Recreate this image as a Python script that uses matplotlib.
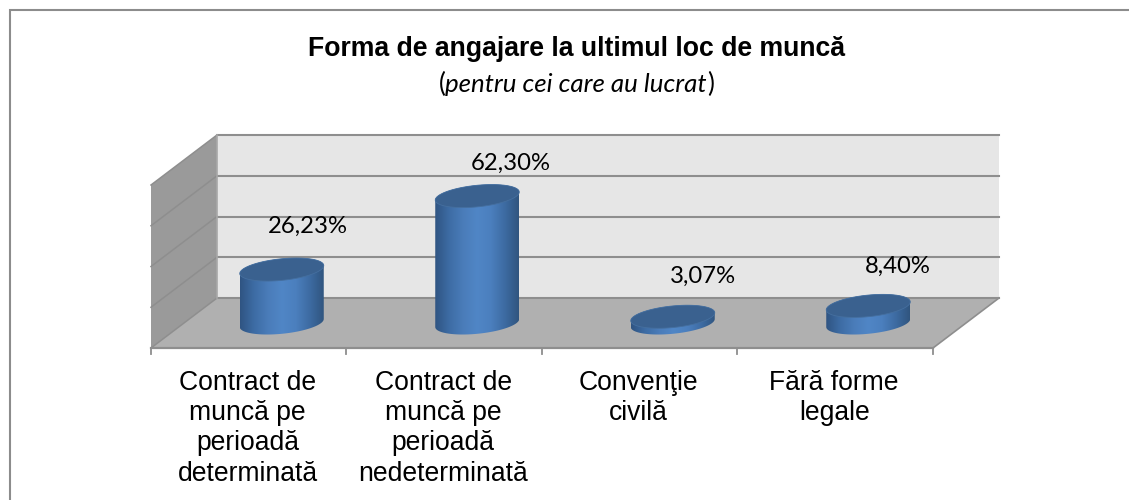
import numpy as np
import matplotlib
matplotlib.use("Agg")
import matplotlib.pyplot as plt
from matplotlib.colors import LinearSegmentedColormap
from matplotlib.patches import Polygon, PathPatch
from matplotlib.path import Path

# data
categories = [["Contract de", "muncă pe", "perioadă", "determinată"],
              ["Contract de", "muncă pe", "perioadă", "nedeterminată"],
              ["Convenţie", "civilă"],
              ["Fără forme", "legale"]]
values = [26.23, 62.30, 3.07, 8.40]
value_labels = ["26,23%", "62,30%", "3,07%", "8,40%"]
grid_values = [0, 20, 40, 60, 80]

# label offsets from the top of each cylinder, in pixels
label_dx = [26.5, 34, 30, 30]
label_dy = [43.6, 33, 40.5, 40]

# pixel sizes of the picture, the axes below are scaled from these
W, H = 1129, 500
X0, Y0 = 151, 348        # front left corner of the floor
CAT_W = 195.5            # pixels per category
VAL_H = 2.0375           # pixels per percent

# depth of the fake 3d box, in data units
DX = 66 / CAT_W
DY = 50 / VAL_H

fig = plt.figure(figsize=(W / 100, H / 100), dpi=100, facecolor="white")
ax = fig.add_axes([0, 0, 1, 1])
ax.set_xlim(-X0 / CAT_W, (W - X0) / CAT_W)
ax.set_ylim(-(H - Y0) / VAL_H, Y0 / VAL_H)
ax.axis("off")

n = len(categories)
top = grid_values[-1]
px = 1 / CAT_W   # one pixel in x data units
py = 1 / VAL_H   # one pixel in y data units

# -------------------------------
# OUTER FRAME (left and top only)
# -------------------------------
frame_c = "#8c8c8c"
ax.plot([(9.5 - X0) * px, (9.5 - X0) * px, (W - X0) * px],
        [(Y0 - H) * py, (Y0 - 9.5) * py, (Y0 - 9.5) * py],
        color=frame_c, lw=1.5, solid_joinstyle="miter")

# -------------------------------
# WALLS AND FLOOR
# -------------------------------
ax.add_patch(Polygon([(DX, DY), (n + DX, DY), (n + DX, top + DY), (DX, top + DY)],
                     fc="#e6e6e6", ec="none", zorder=1))
ax.add_patch(Polygon([(0, 0), (DX, DY), (DX, top + DY), (0, top)],
                     fc="#9a9a9a", ec="none", zorder=1))
ax.add_patch(Polygon([(0, 0), (n, 0), (n + DX, DY), (DX, DY)],
                     fc="#b0b0b0", ec="none", zorder=2))

grid_c = "#8e8e8e"
for g in grid_values:
    ax.plot([DX, n + DX], [g + DY, g + DY], color=grid_c, lw=1.5, zorder=2)
    ax.plot([0, DX], [g, g + DY], color=grid_c, lw=1.1, zorder=2)
ax.plot([DX, DX], [DY, top + DY], color="#a8a8a8", lw=1.2, zorder=2)
ax.plot([n, n + DX], [0, DY], color=grid_c, lw=1.2, zorder=3)
ax.plot([0, n], [0, 0], color=grid_c, lw=1.6, zorder=3)
for i in range(n + 1):
    ax.plot([i, i], [0, -5.5 * py], color=grid_c, lw=1.3, zorder=3)

# -------------------------------
# CYLINDERS
# -------------------------------
body_cmap = LinearSegmentedColormap.from_list(
    "body", ["#2f5482", "#3d6ca4", "#4a7cb9", "#5086c6", "#4b7fbe", "#3d6ba2", "#30557f"])
gradient = np.linspace(0, 1, 256).reshape(1, -1)

RX = 42 * px
RY = 10.8 * py
SHEAR = 4 * py

t = np.linspace(0, 2 * np.pi, 121)


def ellipse(cx, cy, tt):
    return np.column_stack([cx + RX * np.cos(tt), cy + RY * np.sin(tt) + SHEAR * np.cos(tt)])


for i, v in enumerate(values):
    cx = i + 0.5 + DX / 2
    cy = DY / 2
    low = ellipse(cx, cy, np.linspace(np.pi, 2 * np.pi, 60))
    high = ellipse(cx, cy + v, np.linspace(0, np.pi, 60))
    outline = np.vstack([low, high, low[:1]])
    clip = PathPatch(Path(outline), fc="none", ec="none", transform=ax.transData)
    ax.add_patch(clip)
    im = ax.imshow(gradient, cmap=body_cmap, aspect="auto", zorder=4,
                   extent=[cx - RX, cx + RX, cy - RY - SHEAR, cy + v + RY + SHEAR])
    im.set_clip_path(clip)
    ax.add_patch(Polygon(ellipse(cx, cy + v, t), fc="#3a618f", ec="#456f9f", lw=0.6, zorder=5))

    ax.text(cx + label_dx[i] * px, cy + v + label_dy[i] * py, value_labels[i], ha="center", va="center",
            fontsize=17.2, family="Lato", color="black", zorder=6)

# imshow resets the limits
ax.set_xlim(-X0 / CAT_W, (W - X0) / CAT_W)
ax.set_ylim(-(H - Y0) / VAL_H, Y0 / VAL_H)

# -------------------------------
# CATEGORY LABELS
# -------------------------------
for i, lines in enumerate(categories):
    for j, line in enumerate(lines):
        ax.text(i + 0.5 - 1 * px, (Y0 - 390 - 30.2 * j) * py, line, ha="center", va="baseline",
                fontsize=19.1, family="Liberation Sans", color="black")

# -------------------------------
# TITLE
# -------------------------------
ax.text((576 - X0) * px, (Y0 - 49.5) * py, "Forma de angajare la ultimul loc de muncă",
        ha="center", va="center", fontsize=19.2, fontweight="bold",
        family="Liberation Sans", color="black")

# subtitle has upright brackets around italic text
sub = ax.text((576 - X0) * px, (Y0 - 84) * py, "pentru cei care au lucrat",
              ha="center", va="center", fontsize=18.6, style="italic",
              family="Lato", color="black")
fig.canvas.draw()
bb = sub.get_window_extent().transformed(ax.transData.inverted())
ax.text(bb.x0, (Y0 - 84) * py, "(", ha="right", va="center", fontsize=18.6, family="Lato")
ax.text(bb.x1, (Y0 - 84) * py, ")", ha="left", va="center", fontsize=18.6, family="Lato")

fig.savefig("out.png", dpi=100)
